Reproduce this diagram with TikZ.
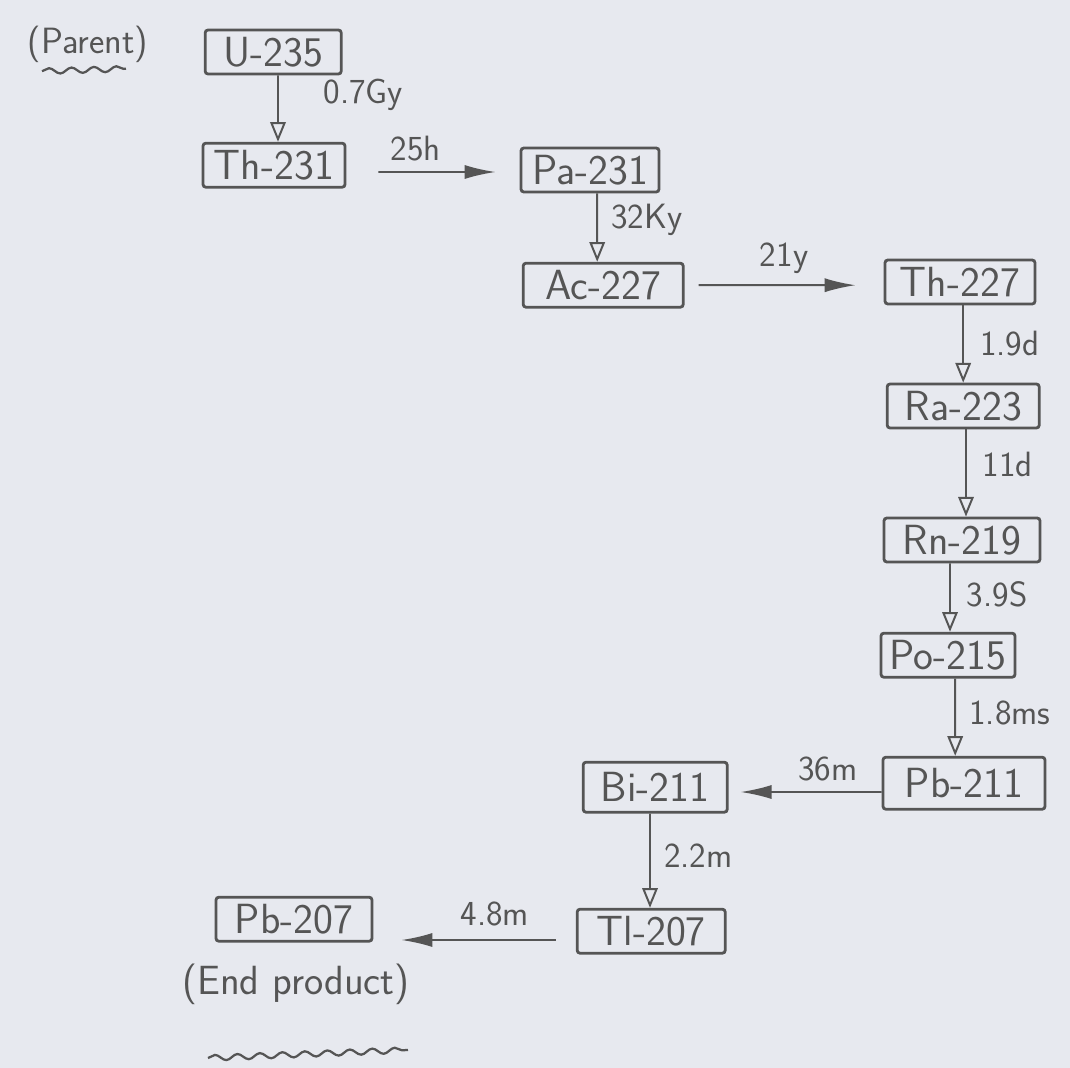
\documentclass[tikz,border=0pt]{standalone}
\usetikzlibrary{arrows.meta,positioning,decorations.pathmorphing}
\definecolor{ink}{HTML}{555555}
\definecolor{paper}{HTML}{E7E9EF}

\begin{document}
\begin{tikzpicture}[line width=1.4pt,draw=ink,text=ink,>=Stealth,
  nuc/.style={draw,line width=2pt,rounded corners=2pt,minimum height=1.1cm,
    inner sep=2pt,font=\sffamily\fontsize{30}{32}\selectfont},
  decay/.style={->,>={Triangle[open,length=14pt,width=11pt]}},
  decayh/.style={->,>={Latex[length=22pt,width=10pt]}},
  hl/.style={font=\sffamily\fontsize{25}{28}\selectfont},
  wave/.style={decorate,decoration={snake,amplitude=2pt,segment length=16pt},line width=1.6pt}]
\useasboundingbox (0,0) rectangle (26.75,-26.7);
\fill[paper] (0,0) rectangle (26.75,-26.7);
% parent
\node[font=\sffamily\fontsize{26}{28}\selectfont] (parent) at (2.2,-1.12) {(Parent)};
\draw[wave] (1.05,-1.78) -- (3.15,-1.72);
% ---------- nuclides ----------
\node[nuc,minimum width=3.4cm]  (U235)  at (6.83,-1.30)  {U-235};
\node[nuc,minimum width=3.55cm] (Th231) at (6.85,-4.13)  {Th-231};
\node[nuc,minimum width=3.45cm] (Pa231) at (14.75,-4.25) {Pa-231};
\node[nuc,minimum width=4.0cm]  (Ac227) at (15.08,-7.13) {Ac-227};
\node[nuc,minimum width=3.75cm] (Th227) at (24.0,-7.05)  {Th-227};
\node[nuc,minimum width=3.8cm]  (Ra223) at (24.08,-10.15) {Ra-223};
\node[nuc,minimum width=3.9cm]  (Rn219) at (24.05,-13.5) {Rn-219};
\node[nuc,minimum width=3.35cm] (Po215) at (23.7,-16.38) {Po-215};
\node[nuc,minimum width=4.05cm,minimum height=1.3cm] (Pb211) at (24.1,-19.58) {Pb-211};
\node[nuc,minimum width=3.6cm,minimum height=1.25cm]  (Bi211) at (16.38,-19.68) {Bi-211};
\node[nuc,minimum width=3.7cm]  (Tl207) at (16.28,-23.28) {Tl-207};
\node[nuc,minimum width=3.9cm]  (Pb207) at (7.35,-22.98) {Pb-207};
% end product
\node[font=\sffamily\fontsize{29}{31}\selectfont] (endp) at (7.4,-24.62) {(End product)};
\draw[wave] (5.2,-26.45) -- (10.2,-26.25);
% ---------- decays ----------
\draw[decay] ([xshift=0.12cm]U235.south) -- ([xshift=0.1cm]Th231.north)
  node[hl,right=1.0cm,pos=0.3] {0.7Gy};
\draw[decayh,shorten <=0.8cm,shorten >=0.6cm] ([yshift=-0.17cm]Th231.east) -- ([yshift=-0.05cm]Pa231.west)
  node[hl,above=4pt,pos=0.4] {25h};
\draw[decay] ([xshift=0.18cm]Pa231.south) -- ([xshift=-0.15cm]Ac227.north)
  node[hl,right=6pt,pos=0.38] {32Ky};
\draw[decayh,shorten <=0.35cm,shorten >=0.7cm] (Ac227.east) -- ([yshift=-0.08cm]Th227.west)
  node[hl,above=4pt,pos=0.5] {21y};
\draw[decay] ([xshift=0.08cm]Th227.south) -- (Ra223.north)
  node[hl,right=8pt,pos=0.5] {1.9d};
\draw[decay] ([xshift=0.07cm]Ra223.south) -- ([xshift=0.1cm]Rn219.north)
  node[hl,right=8pt,pos=0.4] {11d};
\draw[decay] ([xshift=-0.3cm]Rn219.south) -- ([xshift=0.05cm]Po215.north)
  node[hl,right=8pt,pos=0.45] {3.9S};
\draw[decay] ([xshift=0.18cm]Po215.south) -- ([xshift=-0.22cm]Pb211.north)
  node[hl,right=6pt,pos=0.45] {1.8ms};
\draw[decayh,shorten >=0.3cm] ([yshift=-0.22cm]Pb211.west) -- ([yshift=-0.12cm]Bi211.east)
  node[hl,above=4pt,pos=0.35] {36m};
\draw[decay] ([xshift=-0.13cm]Bi211.south) -- ([xshift=-0.03cm]Tl207.north)
  node[hl,right=6pt,pos=0.45] {2.2m};
\draw[decayh,shorten <=0.5cm,shorten >=0.7cm] ([yshift=-0.22cm]Tl207.west) -- ([yshift=-0.52cm]Pb207.east)
  node[hl,above=6pt,pos=0.4] {4.8m};
\end{tikzpicture}
\end{document}
